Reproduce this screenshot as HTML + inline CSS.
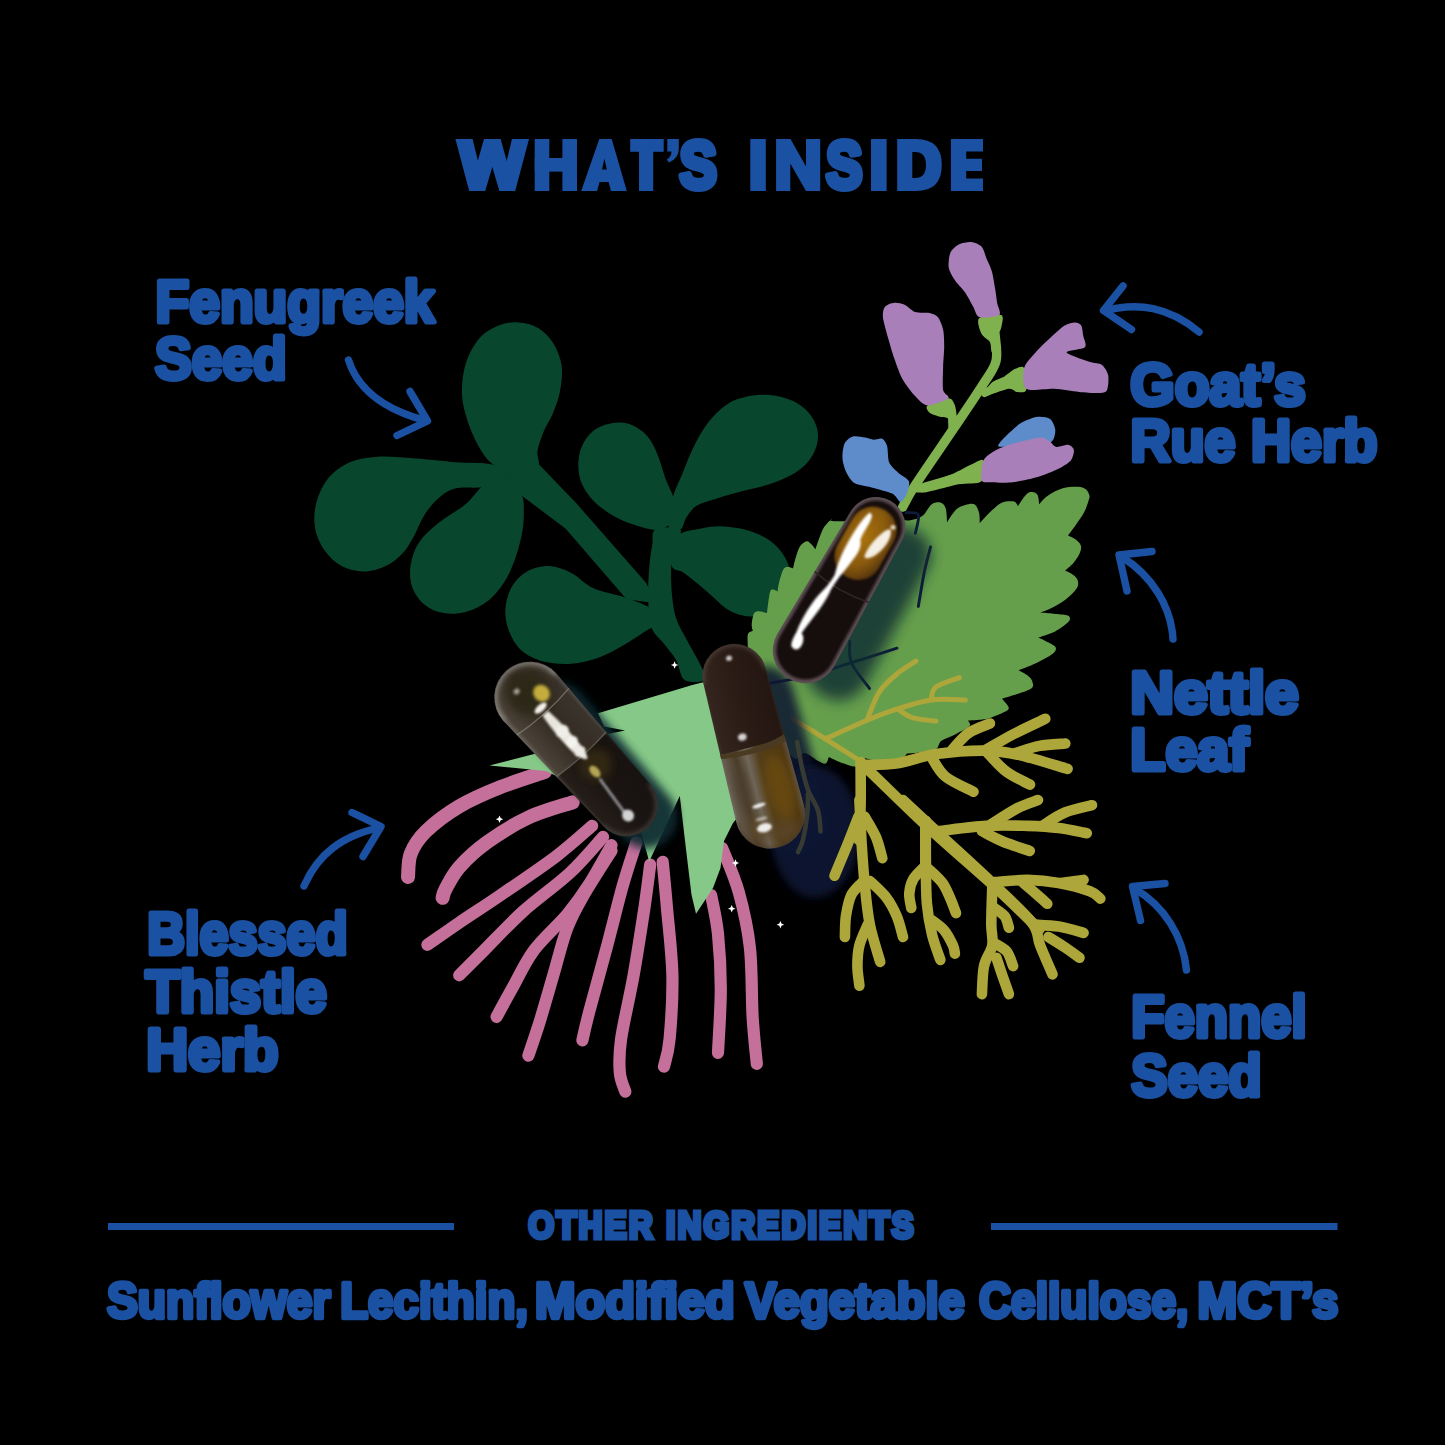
<!DOCTYPE html>
<html>
<head>
<meta charset="utf-8">
<title>What's Inside</title>
<style>
html,body{margin:0;padding:0;background:#000;}
body{width:1445px;height:1445px;overflow:hidden;position:relative;font-family:"Liberation Sans",sans-serif;}
svg{position:absolute;left:0;top:0;display:block;}
.lbl{font-family:"Liberation Sans",sans-serif;font-weight:bold;font-size:59px;fill:#1b51a3;stroke:#1b51a3;stroke-width:5px;stroke-linejoin:round;}
.ttl{font-family:"Liberation Sans",sans-serif;font-weight:bold;font-size:66px;fill:#1b51a3;stroke:#1b51a3;stroke-width:7px;stroke-linejoin:round;}
.oth{font-family:"Liberation Sans",sans-serif;font-weight:bold;font-size:37px;fill:#1b51a3;stroke:#1b51a3;stroke-width:4.8px;stroke-linejoin:miter;}
.ing{font-family:"Liberation Sans",sans-serif;font-weight:bold;font-size:50px;fill:#1b51a3;stroke:#1b51a3;stroke-width:4.4px;stroke-linejoin:round;}
.arw{fill:none;stroke:#1b51a3;stroke-width:7.4;stroke-linecap:round;stroke-linejoin:round;}
</style>
</head>
<body>
<svg width="1445" height="1445" viewBox="0 0 1445 1445">
<rect width="1445" height="1445" fill="#000"/>
<!--ILLUSTRATION-->
<g id="illus">
<g id="fenugreek" fill="#09462e">
<path d="M493.8,465 C486.9,459.5 484.3,455.8 479.9,448.4 C475.5,441 470.5,430 467.5,420.7 C464.5,411.5 462.2,402.7 461.9,393 C461.7,383.4 463.1,371.8 466.1,362.6 C469.1,353.4 474.4,343.9 479.9,337.7 C485.5,331.5 492.8,327.8 499.3,325.2 C505.8,322.7 512.2,322 518.7,322.5 C525.1,322.9 532.3,324.5 538.1,328 C543.8,331.5 549.4,337 553.3,343.2 C557.2,349.4 560.4,357.5 561.6,365.4 C562.7,373.2 561.6,382.4 560.2,390.3 C558.8,398.1 556.1,405.5 553.3,412.4 C550.5,419.3 546.2,425.3 543.6,431.8 C541,438.3 538.4,445.2 537.5,451.2 C536.6,457.2 540.7,462.7 538.1,467.8 C535.4,472.9 528.8,482.1 521.5,481.6 C514.1,481.2 500.7,470.6 493.8,465Z"/>
<path d="M493.8,465 C484.5,461.8 468.9,463.4 455,462.2 C441.2,461.1 423.6,459 410.7,458.1 C397.8,457.2 387.7,456 377.5,456.7 C367.4,457.4 358.1,458.6 349.8,462.2 C341.5,465.9 333.3,471.9 327.7,478.9 C322.1,485.8 318.1,495.5 316.1,503.8 C314,512.1 313.7,520.8 315.2,528.7 C316.7,536.5 320.5,544.6 324.9,550.8 C329.3,557.1 335.1,562.6 341.5,566.1 C348,569.5 356.3,571.6 363.7,571.6 C371,571.6 379.4,569.1 385.8,566.1 C392.3,563.1 397.8,558.4 402.4,553.6 C407,548.8 409.8,543.4 413.5,537 C417.2,530.5 420.4,521.3 424.6,514.8 C428.7,508.4 433.3,502.6 438.4,498.2 C443.5,493.9 447.6,490.4 455,488.5 C462.4,486.7 473.5,488.3 482.7,487.2 C491.9,486 508.5,485.3 510.4,481.6 C512.2,477.9 503,468.2 493.8,465Z"/>
<path d="M488.2,481.6 C479.5,486.2 474.4,496.9 466.1,503.8 C457.8,510.7 446.3,516.7 438.4,523.1 C430.6,529.6 423.6,535.6 419,542.5 C414.4,549.4 411.9,557.3 410.7,564.7 C409.6,572.1 409.8,580.1 412.1,586.8 C414.4,593.5 419.3,600.4 424.6,604.8 C429.9,609.2 437,612 443.9,613.1 C450.9,614.3 458.7,613.8 466.1,611.7 C473.5,609.7 481.8,605.7 488.2,600.7 C494.7,595.6 500.2,588.7 504.8,581.3 C509.5,573.9 512.9,565.1 515.9,556.4 C518.9,547.6 521.5,537.5 522.8,528.7 C524.1,519.9 523.9,509.8 523.7,503.8 C523.4,497.8 522.3,497.3 521.5,492.7 C520.6,488.1 524.2,477.9 518.7,476.1 C513.1,474.2 497,477 488.2,481.6Z"/>
<path d="M651.6,609 C646.5,604.8 636.3,601.3 626.6,597.9 C617,594.4 602.7,592.4 593.4,588.2 C584.2,584 578.7,576.7 571.3,573 C563.9,569.3 556.5,566.3 549.1,566.1 C541.8,565.8 533.2,568.1 527,571.6 C520.8,575.1 515.4,580.6 511.8,586.8 C508.2,593 505.9,601.6 505.4,609 C504.9,616.3 506.3,624.2 509,631.1 C511.7,638 515.7,645.4 521.5,650.5 C527.2,655.6 535.3,659.3 543.6,661.6 C551.9,663.8 562.1,664.5 571.3,663.8 C580.5,663.1 590.2,660.5 599,657.4 C607.7,654.3 616.5,649.1 623.9,644.9 C631.3,640.8 637.7,636.2 643.3,632.5 C648.8,628.8 655.7,626.7 657.1,622.8 C658.5,618.9 656.6,613.1 651.6,609Z"/>
<path d="M673.1,496.3 C671.4,491.4 668.5,486.6 665.9,479.6 C663.3,472.7 660.7,462 657.6,454.7 C654.5,447.5 651.7,441.1 647.2,436.1 C642.7,431 636.5,426.8 630.6,424.6 C624.7,422.5 618.1,422.1 611.9,423.2 C605.7,424.2 598.2,427 593.2,430.9 C588.2,434.7 584.3,440.7 581.8,446.4 C579.3,452.1 578.3,458.9 578.3,465.1 C578.3,471.3 579.3,477.9 581.8,483.8 C584.3,489.7 588.2,495.2 593.2,500.4 C598.2,505.6 605.3,511 611.9,514.9 C618.5,518.9 625.4,521.8 632.7,524.3 C639.9,526.8 649.6,529.7 655.5,529.9 C661.4,530.1 664.5,528.8 668,525.3 C671.4,521.8 675.4,513.6 676.3,508.7 C677.1,503.9 674.9,501.1 673.1,496.3Z"/>
<path d="M673.1,496.3 C675.6,487.6 679.2,481.4 682.5,473.4 C685.8,465.5 688.7,456.8 692.9,448.5 C697,440.2 701.9,430.9 707.4,423.6 C712.9,416.3 719.5,409.4 726.1,404.9 C732.7,400.4 739.6,398.3 746.8,396.6 C754.1,394.9 762.1,394.3 769.7,394.9 C777.3,395.6 785.9,397.7 792.5,400.8 C799.1,403.8 805,408.4 809.1,413.2 C813.3,418.1 816.2,424.3 817.4,429.8 C818.6,435.4 818.1,440.9 816.4,446.4 C814.7,452 811.4,458.2 807,463 C802.7,467.9 797,471.9 790.4,475.5 C783.9,479.1 775.6,482.2 767.6,484.8 C759.6,487.4 751,488.8 742.7,491.1 C734.4,493.3 725.4,495.9 717.8,498.3 C710.2,500.8 702.2,502.5 697,505.6 C691.8,508.7 689.4,513 686.6,517 C683.9,521 683.5,528.1 680.4,529.5 C677.3,530.9 669.2,530.9 668,525.3 C666.7,519.8 670.7,504.9 673.1,496.3Z"/>
<path d="M680.4,533.6 C685.6,530.7 694.2,529.6 701.2,528.4 C708.1,527.2 714.7,526.2 721.9,526.4 C729.2,526.5 737.5,527.6 744.8,529.5 C752,531.4 759.6,534.3 765.5,537.8 C771.4,541.2 776.2,545.7 780.1,550.2 C783.9,554.7 786.6,559.9 788.4,564.8 C790.1,569.6 790.8,574.1 790.4,579.3 C790.1,584.5 788.7,591.1 786.3,595.9 C783.9,600.7 780.4,605.1 775.9,608.4 C771.4,611.6 764.8,614.4 759.3,615.6 C753.8,616.8 748.2,616.8 742.7,615.6 C737.2,614.4 731.6,612 726.1,608.4 C720.5,604.7 714.7,598.3 709.5,593.8 C704.3,589.3 699.4,585 694.9,581.4 C690.4,577.7 686.3,574.5 682.5,572 C678.7,569.6 674.2,571.2 672.1,566.8 C670,562.5 668.6,551.6 670,546.1 C671.4,540.5 675.2,536.6 680.4,533.6Z"/>
<path d="M655.5,529.5 C660.2,527 677.5,526 680.4,529.5 C683.3,532.9 674.7,543.3 673.1,550.2 C671.6,557.2 671.2,563.4 671.1,571 C670.9,578.6 671.2,587.9 672.1,595.9 C673,603.9 673.8,611.5 676.3,618.7 C678.7,626 682.5,631.5 686.6,639.5 C690.8,647.5 698.1,659.7 701.2,666.5 C704.3,673.2 708.1,677.7 705.3,680 C702.6,682.2 689.4,683.3 684.6,680 C679.7,676.7 679.7,666.3 676.3,660.3 C672.8,654.2 668,649.2 663.8,643.6 C659.6,638.1 653.9,634.7 651.3,627 C648.7,619.4 648.6,608 648.2,598 C647.9,587.9 648.6,575.8 649.3,566.8 C650,557.8 651.3,550.2 652.4,544 C653.4,537.8 650.8,531.9 655.5,529.5Z"/>
<path d="M521.5,465 L538.1,463.6 L576.8,503.8 L646,582.7 L657.1,603.4 L626.6,599.3 L565.7,528.7 L521.5,495.5 L510.4,481.6Z"/>
</g>
<g id="goatsrue">
<g fill="none" stroke="#80b14f" stroke-linecap="round" stroke-linejoin="round">
<path d="M995,333.8 C995.2,338.3 998,352.5 996.1,360.8 C994.2,369.1 990.5,372.6 983.6,383.6 C976.7,394.7 966,410.3 954.6,427.2 C943.1,444.2 923.8,472 915.1,485.3 C906.5,498.7 904.7,503.5 902.7,507.1" stroke-width="9.4"/>
<path d="M984.7,393 C986.6,392.1 991.8,389.3 996.1,387.8 C1000.4,386.2 1008.2,384.3 1010.6,383.6" stroke-width="8"/>
<path d="M918.2,488.5 C924.3,486.7 945,480.7 954.6,478.1 C964.1,475.5 971.9,473.8 975.3,472.9" stroke-width="8"/>
<path d="M952.5,430.3 C952.4,428.1 952.1,419.1 952.1,416.8" stroke-width="8"/>
</g>
<path d="M979.1,318.2 C981.8,315.6 998.2,313.8 1001.3,315.1 C1004.4,316.4 1001.8,324.4 1001.3,327.6 C1000.7,330.8 997.6,334.8 997.1,338 C996.7,341.1 998.9,348.4 998.2,350.4 C997.4,352.4 993.1,353.6 991.9,352.5 C990.8,351.3 991.3,344.7 989.9,342.1 C988.4,339.5 983.1,337.1 981.5,333.8 C980,330.5 976.3,320.8 979.1,318.2Z" fill="#80b14f"/>
<path d="M927.6,405.4 C930.2,403.4 944.6,398.3 948.3,398.2 C952.1,398 953.4,402.1 954.6,404.4 C955.7,406.7 956.3,412.1 956.6,414.8 C956.9,417.4 957.7,420.6 956.6,423.1 C955.6,425.5 950.5,433 949.4,432.4 C948.2,431.8 949.6,421.1 948.3,418.9 C947,416.7 942.6,417.7 940,416.8 C937.4,416 931.4,414.3 929.6,412.7 C927.9,411.1 925,407.5 927.6,405.4Z" fill="#80b14f"/>
<path d="M1024.1,368.1 C1025.7,371 1027.2,386.5 1026.2,389.9 C1025.2,393.2 1019.3,392.1 1016.8,391.9 C1014.4,391.8 1013.2,388.2 1008.5,388.8 C1003.9,389.4 985.9,397 983.6,396.1 C981.3,395.2 989,385.3 991.9,382.6 C994.8,379.8 1001.2,378.2 1004.4,376.4 C1007.6,374.5 1012,370.3 1014.8,369.1 C1017.5,367.9 1022.5,365.1 1024.1,368.1Z" fill="#80b14f"/>
<path d="M983.6,460.4 C985.1,462.8 985,477.9 981.5,481.2 C978.1,484.5 966.8,482.7 958.7,484.3 C950.6,485.9 929.2,492.2 923.4,492.6 C917.6,493 912.8,490.2 917.2,487.4 C921.6,484.7 947,476.1 954.6,472.9 C962.1,469.7 967.1,466.3 971.2,464.6 C975.2,462.8 982.2,458.1 983.6,460.4Z" fill="#80b14f"/>
<path d="M979.5,317.2 C975.8,316 975.3,310.3 973.2,306.8 C971.2,303.3 967.6,296.1 964.9,292.3 C962.3,288.5 956.8,283.3 954.6,279.8 C952.3,276.3 949.3,271.1 948.7,267.4 C948.2,263.6 949,256 950.4,252.8 C951.8,249.6 955.8,246 958.7,244.5 C961.6,243 968,241.8 971.2,242 C974.4,242.3 979.4,244.2 981.5,246.6 C983.7,249 985.3,255.6 986.7,259.1 C988.2,262.6 990.8,267.5 991.9,271.5 C993.1,275.6 994.3,283.8 995,288.1 C995.8,292.5 996.5,298.9 997.1,302.7 C997.7,306.4 1001.7,313.1 999.2,315.1 C996.7,317.1 983.1,318.4 979.5,317.2Z" fill="#a87fb9"/>
<path d="M927.6,405.4 C922.9,405.1 918.6,399.7 915.1,396.1 C911.6,392.4 905.6,384.7 902.7,379.5 C899.8,374.2 896.4,364.5 894.4,358.7 C892.3,352.9 889.7,343.8 888.1,338 C886.5,332.1 883.4,321.6 882.9,317.2 C882.5,312.8 883.4,308.8 885,306.8 C886.6,304.8 891.6,302.9 894.4,302.7 C897.1,302.4 901.8,303.4 904.7,304.7 C907.6,306 911.6,310.8 915.1,312 C918.6,313.2 926.5,312.3 929.6,313 C932.8,313.8 936.1,314.9 938,317.2 C939.8,319.5 942.3,325.6 943.1,329.6 C944,333.7 944.2,341 944.2,346.3 C944.2,351.5 943.3,360.9 943.1,367 C943,373.1 942.4,385.5 943.1,389.9 C943.9,394.2 950.5,396 948.3,398.2 C946.2,400.3 932.2,405.7 927.6,405.4Z" fill="#a87fb9"/>
<path d="M1024.1,368.1 C1025.4,363 1031.9,356.7 1035.5,352.5 C1039.2,348.3 1046,341.7 1050.1,338 C1054.1,334.2 1061.1,327.7 1064.6,325.5 C1068.1,323.3 1072.6,322.4 1075,322.4 C1077.3,322.4 1080,323.6 1081.2,325.5 C1082.4,327.4 1082.7,332.8 1083.3,335.9 C1083.8,338.9 1087.3,345 1084.9,347.3 C1082.6,349.6 1066,350.4 1066.7,352.5 C1067.3,354.5 1084.6,360.1 1089.5,361.8 C1094.4,363.6 1099.3,363 1102,364.9 C1104.6,366.8 1107.5,371.8 1108.2,375.3 C1108.9,378.8 1108.3,387.4 1107.1,389.9 C1106,392.3 1103.8,392.7 1099.9,393 C1096,393.3 1085.5,392.5 1079.1,391.9 C1072.7,391.3 1061.6,389.2 1054.2,388.8 C1046.8,388.4 1030.4,391.7 1026.2,388.8 C1022,385.9 1022.8,373.1 1024.1,368.1Z" fill="#a87fb9"/>
<path d="M998.2,445.9 C997.6,444.4 1003.3,438.7 1006.5,435.5 C1009.7,432.3 1016.6,425.7 1021,423.1 C1025.3,420.5 1033.5,417.4 1037.6,416.8 C1041.7,416.3 1047.6,417.2 1050.1,418.9 C1052.5,420.7 1054.8,426.4 1055.2,429.3 C1055.7,432.2 1054.5,437.6 1053.2,439.7 C1051.9,441.7 1049.5,443.5 1045.9,443.8 C1042.3,444.1 1032.2,441.5 1027.2,441.8 C1022.3,442 1014.7,445.3 1010.6,445.9 C1006.5,446.5 998.7,447.4 998.2,445.9Z" fill="#5e8ccb"/>
<path d="M983.6,460.4 C985.7,456.2 992,452.4 996.1,450.1 C1000.1,447.7 1008,445.3 1012.7,443.8 C1017.3,442.4 1025.2,440.5 1029.3,439.7 C1033.4,438.8 1038.8,437.3 1041.8,437.6 C1044.7,437.9 1048,440.4 1050.1,441.8 C1052.1,443.1 1053.7,446.5 1056.3,446.9 C1058.9,447.4 1066.3,444.4 1068.7,444.9 C1071.2,445.3 1073.6,447.9 1073.9,450.1 C1074.2,452.2 1073,457.8 1070.8,460.4 C1068.6,463 1063,466.4 1058.4,468.7 C1053.7,471.1 1044,475.2 1037.6,477 C1031.2,478.9 1019.1,481.5 1012.7,482.2 C1006.3,483 996.3,482.5 991.9,482.2 C987.6,481.9 982.7,483.2 981.5,480.2 C980.4,477.1 981.6,464.6 983.6,460.4Z" fill="#a87fb9"/>
<path d="M900.6,502 C898.5,502 896.3,495.7 892.3,493.6 C888.2,491.6 876.8,488.9 871.5,487.4 C866.3,486 858.4,485.3 854.9,483.3 C851.4,481.2 848.4,476.4 846.6,472.9 C844.9,469.4 842.7,462.4 842.5,458.4 C842.2,454.3 843.1,446.9 844.5,443.8 C846,440.8 849.9,437.4 852.8,436.6 C855.7,435.7 862.4,437.2 865.3,437.6 C868.2,438 871.3,439.5 873.6,439.7 C875.9,439.8 880,437.8 881.9,438.6 C883.8,439.5 886.1,442.6 887.1,445.9 C888.1,449.2 887.6,458.7 889.2,462.5 C890.8,466.3 895.7,470.3 898.5,472.9 C901.3,475.5 907.7,478.3 908.9,481.2 C910,484.1 908,490.7 906.8,493.6 C905.6,496.6 902.6,502 900.6,502Z" fill="#5e8ccb"/>
</g>
<path id="nettle" d="M747.6,640 C747.4,634.7 747.7,634.4 748.6,632.9 C749.5,631.4 752.9,631 752.9,631 C752.9,631 751.6,627.7 751.7,625 C751.7,622.3 752.6,617.1 753.4,614.8 C754.3,612.6 754.5,611.8 756.8,611.4 C759.1,611.1 767,612.9 767,612.9 C767,612.9 767.8,605.5 768.4,601.7 C769.1,597.9 769.5,591.8 771,590.1 C772.6,588.4 777.6,591.6 777.6,591.6 C777.6,591.6 778.1,586.1 779.1,582.4 C780.1,578.6 782,571.9 783.4,569.3 C784.9,566.7 786.2,567 787.8,566.9 C789.4,566.7 793.1,568.3 793.1,568.3 C793.1,568.3 794.4,561.8 795.6,558.1 C796.7,554.5 798.1,549.3 799.9,546.5 C801.8,543.7 804.8,541.5 806.7,541.2 C808.6,540.9 810.1,543.2 811.6,544.6 C813,545.9 815.4,549.4 815.4,549.4 C815.4,549.4 816.9,544.4 818.3,540.7 C819.8,537 821.9,530.7 824.1,527.1 C826.4,523.6 829.9,520.3 831.9,519.4 C833.9,518.4 825.2,521.2 836.3,521.3 C847.3,521.5 885.9,520.4 898.3,520.2 C910.6,520.1 906.4,521 910.5,520.2 C914.5,519.5 919.1,518.3 922.6,515.7 C926.2,513 928.7,506.4 931.8,504.3 C934.8,502.1 938.6,502 940.9,502.7 C943.2,503.5 944.8,505.5 945.8,508.8 C946.8,512.1 947,522.5 947,522.5 C947,522.5 953.1,512.5 956.1,509.6 C959.2,506.7 962.2,505.9 965.3,505 C968.3,504.1 972.1,503 974.4,504.3 C976.7,505.5 978.1,509.5 979,512.6 C979.9,515.8 979.7,523.3 979.7,523.3 C979.7,523.3 985.9,516.1 989.6,512.6 C993.3,509.2 997.7,504.6 1001.8,502.7 C1005.9,500.9 1011.3,500.9 1014,501.5 C1016.6,502.1 1017.8,506.2 1017.8,506.2 C1017.8,506.2 1023.8,496.7 1026.2,494.4 C1028.6,492 1030.4,491.9 1032.3,492.1 C1034.2,492.2 1036.4,493.1 1037.6,495.1 C1038.7,497.2 1039.1,504.3 1039.1,504.3 C1039.1,504.3 1043.5,498.5 1047.5,495.9 C1051.4,493.2 1057.6,489.8 1062.7,488.3 C1067.8,486.7 1074.1,486.6 1077.9,486.7 C1081.7,486.9 1083.6,487.6 1085.5,489 C1087.4,490.4 1088.8,493.2 1089.3,495.1 C1089.9,497 1089.5,497.5 1088.6,500.5 C1087.7,503.4 1086.3,508.3 1084,512.6 C1081.7,516.9 1077.5,522.5 1074.9,526.3 C1072.2,530.1 1068,535.5 1068,535.5 C1068,535.5 1074.2,538.3 1076.4,540 C1078.6,541.8 1080.5,543.8 1081,546.1 C1081.5,548.4 1080.7,550.9 1079.5,553.7 C1078.2,556.5 1075.8,560.1 1073.4,562.9 C1071,565.7 1065,570.5 1065,570.5 C1065,570.5 1071.2,573.3 1073.4,575.1 C1075.5,576.8 1077.4,578.9 1077.9,581.1 C1078.4,583.4 1078.4,585.7 1076.4,588.8 C1074.4,591.8 1070.1,596.1 1065.7,599.4 C1061.4,602.7 1054.7,606.4 1050.5,608.6 C1046.3,610.7 1040.6,612.4 1040.6,612.4 C1040.6,612.4 1057.9,613.9 1062.7,614.6 C1067.5,615.4 1068.7,615.7 1069.6,616.9 C1070.4,618.2 1070.4,619.8 1068,622.3 C1065.6,624.7 1060,628.9 1055.1,631.4 C1050.1,633.9 1038.3,637.5 1038.3,637.5 C1038.3,637.5 1047.6,641.8 1050.5,643.6 C1053.4,645.3 1055.6,646.4 1055.9,648.1 C1056.1,649.9 1055.5,651.7 1052,654.2 C1048.6,656.8 1040.9,660.7 1035.3,663.4 C1029.7,666 1018.6,670.2 1018.6,670.2 C1018.6,670.2 1025.4,673.6 1027.7,675.5 C1030,677.4 1031.9,679.3 1032.3,681.6 C1032.6,683.9 1035,686.4 1030,689.2 C1024.9,692.1 1001.8,698.8 1001.8,698.8 C1001.8,698.8 1009.1,705.7 1008.8,708.2 C1008.5,710.7 1003.6,712.2 1000,714 C996.4,715.8 987,719 987,719 C987,719 981.2,719.7 977.9,719.9 C974.7,720.2 967.6,720.4 967.6,720.4 C967.6,720.4 971.6,723.7 969.6,726 C967.5,728.4 959.8,731.9 955.1,734.4 C950.4,736.9 944.7,738.3 941.4,740.8 C938.1,743.3 939.4,747.6 935.3,749.6 C931.2,751.6 921.8,752 917,752.7 C912.3,753.3 906.7,753.4 906.7,753.4 C906.7,753.4 905.9,756.3 902.6,757.5 C899.2,758.8 891.3,760.6 886.6,761 C881.9,761.5 877.9,760.7 874.4,760.3 C870.8,759.8 865.3,758.3 865.3,758.3 C865.3,758.3 859.7,765.5 856.1,766.4 C852.6,767.3 848.5,765.2 843.9,763.6 C839.4,762.1 828.7,756.9 828.7,756.9 C828.7,756.9 827.5,762.9 825.7,763.6 C823.9,764.3 821.6,762.8 818.1,761 C814.6,759.3 808.5,753.4 804.7,753 C800.8,752.5 799,760.6 794.9,758.5 C790.8,756.3 785.8,749.7 780,740 C774.2,730.3 765,712.5 760,700 C755,687.5 752.1,675 750,665 C747.9,655 747.8,645.4 747.6,640Z" fill="#669f4c"/>
<g id="thistle-pink" fill="none" stroke="#c4709a" stroke-width="12.2" stroke-linecap="round" stroke-linejoin="round">
<path d="M545,771.8 C537.6,774.4 515,781.3 500.7,787.1 C486.4,792.8 471.7,799.1 459.2,806.4 C446.7,813.8 434.1,823.5 426,831.3 C417.9,839.2 413.8,845.9 410.8,853.5 C407.8,861.1 408.5,873.1 408,877" stroke-width="14"/>
<path d="M572.7,802.3 C565.3,804.8 542.7,810.8 528.4,817.5 C514.1,824.2 498.4,834.1 486.9,842.4 C475.4,850.7 466.1,859.5 459.2,867.3 C452.3,875.2 448.1,884.4 445.4,889.5 C442.6,894.6 443.1,896.4 442.6,897.8" stroke-width="14"/>
<path d="M592.1,825.8 C586.1,830.9 571.3,844.7 556.1,856.3 C540.9,867.8 516.9,883.9 500.7,895 C484.6,906.1 471.4,914.4 459.2,922.7 C447,931 432.7,941.2 427.4,944.8"/>
<path d="M603.1,836.9 C597.6,842.9 583.3,860.4 569.9,872.9 C556.6,885.3 537.2,898.7 522.9,911.6 C508.6,924.5 494.7,939.8 484.1,950.4 C473.5,961 463.4,971.1 459.2,975.3"/>
<path d="M611.5,845.2 C607.8,851.6 596.7,872.4 589.3,883.9 C581.9,895.5 576.4,903.3 567.2,914.4 C557.9,925.5 543.2,937.9 533.9,950.4 C524.7,962.8 518,978.1 511.8,989.1 C505.6,1000.2 499.1,1012.2 496.6,1016.8"/>
<path d="M611.5,850.7 C606.8,858.1 591.2,882.1 583.8,895 C576.4,907.9 572.2,914.9 567.2,928.2 C562.1,941.6 557.9,959.6 553.3,975.3 C548.7,991 543.6,1009 539.5,1022.4 C535.3,1035.7 530.3,1050 528.4,1055.6"/>
<path d="M636.4,842.4 C634.1,849.8 627.6,868.7 622.5,886.7 C617.5,904.7 611.5,929.6 605.9,950.4 C600.4,971.1 593.2,996.3 589.3,1011.3 C585.4,1026.3 583.5,1035.5 582.4,1040.3"/>
<path d="M650.2,864.6 C649.3,871.5 647.4,887.6 644.7,906.1 C641.9,924.5 637.5,953.1 633.6,975.3 C629.7,997.4 623.4,1022.8 621.1,1039 C618.8,1055.1 619.1,1063.4 619.8,1072.2 C620.4,1080.9 624.4,1088.3 625.3,1091.6"/>
<path d="M662.7,861.8 C663.4,869.2 665.2,887.2 666.8,906.1 C668.4,925 671.9,953.1 672.4,975.3 C672.8,997.4 671,1023.7 669.6,1039 C668.2,1054.2 665,1062 664,1066.6"/>
<path d="M711.1,895 C712.3,901.5 716.4,918.1 718,933.8 C719.6,949.5 720.8,969.3 720.8,989.1 C720.8,1009 718.5,1042.2 718,1052.8"/>
<path d="M722.2,848 C724.9,855.3 734.2,875.6 738.8,892.2 C743.4,908.9 747.6,926.9 749.9,947.6 C752.2,968.4 751.5,997.4 752.6,1016.8 C753.8,1036.2 756.1,1056 756.8,1063.9"/>
</g>
<path id="thistle-green" d="M598,713.2 L691.5,685.3 L700,683 L735,676 L748,700 L762,760 L752,800 L733,823 L724,841 L720.5,868 L713,888 L702.5,904 L696,913.7 L691.5,894.8 L686.1,849.9 L679.8,795.9 L649.2,861.5 L641,832 L622,813 L585,790 L546,771 L489.5,765.5 L536,753.5 L590,745 L608,734 L625,730.5 L604,726.5Z" fill="#86c887"/>
<g id="fennel" fill="none" stroke="#ada63a" stroke-linecap="round" stroke-linejoin="round">
<g stroke-width="5">
<path d="M792.4,718.8 C797.8,722.2 813.9,731.8 825.3,738.8 C836.7,745.9 854.7,757.5 860.6,761.2"/>
<path d="M825.3,738.8 C832.4,735.7 855.9,724.9 867.6,720 C879.4,715.1 885.3,712.7 895.9,709.4 C906.5,706.1 919.6,701.6 931.2,700 C942.7,698.4 959.6,700 965.3,700"/>
<path d="M867.6,718.8 C869.6,714.3 874.3,699.4 879.4,691.8 C884.5,684.1 892.2,678 898.2,672.9 C904.3,667.8 912.9,663.1 915.9,661.2"/>
<path d="M931.2,698.8 C932,696.9 931.2,690.6 935.9,687.1 C940.6,683.5 955.5,679.2 959.4,677.6"/>
<path d="M898.2,709.4 C900.6,710.8 906.1,715.7 912.4,717.6 C918.6,719.6 932,720.6 935.9,721.2"/>
</g></g>
<defs>
<filter id="bl8" x="-50%" y="-50%" width="200%" height="200%"><feGaussianBlur stdDeviation="7"/></filter>
<filter id="bl5" x="-50%" y="-50%" width="200%" height="200%"><feGaussianBlur stdDeviation="4.5"/></filter>
<filter id="bl3" x="-50%" y="-50%" width="200%" height="200%"><feGaussianBlur stdDeviation="2.6"/></filter>
<filter id="bl1" x="-20%" y="-20%" width="140%" height="140%"><feGaussianBlur stdDeviation="0.8"/></filter>
<filter id="bl2" x="-30%" y="-30%" width="160%" height="160%"><feGaussianBlur stdDeviation="1.5"/></filter>
<radialGradient id="amb" cx="0.42" cy="0.45" r="0.7"><stop offset="0" stop-color="#a9720c"/><stop offset="0.55" stop-color="#8a5a0a"/><stop offset="1" stop-color="#4a2d08"/></radialGradient>
<linearGradient id="c2low" x1="0" x2="1" y1="0" y2="0"><stop offset="0" stop-color="#98928a"/><stop offset="0.1" stop-color="#665c50"/><stop offset="0.26" stop-color="#4a3c28"/><stop offset="0.4" stop-color="#70675a"/><stop offset="0.54" stop-color="#523e1a"/><stop offset="0.85" stop-color="#503812"/><stop offset="0.95" stop-color="#625a52"/><stop offset="1" stop-color="#79726a"/></linearGradient>
<linearGradient id="c2top" x1="0" x2="1" y1="0" y2="0"><stop offset="0" stop-color="#5a4d48"/><stop offset="0.12" stop-color="#33241d"/><stop offset="0.5" stop-color="#2a1b15"/><stop offset="0.88" stop-color="#241611"/><stop offset="1" stop-color="#50443f"/></linearGradient>
<linearGradient id="c3a" x1="0" x2="1" y1="0" y2="0"><stop offset="0" stop-color="#8a8680"/><stop offset="0.13" stop-color="#4a4238"/><stop offset="0.5" stop-color="#332b22"/><stop offset="0.88" stop-color="#3a332c"/><stop offset="1" stop-color="#6f6b66"/></linearGradient>
<linearGradient id="c3b" x1="0" x2="1" y1="0" y2="0"><stop offset="0" stop-color="#6a6661"/><stop offset="0.14" stop-color="#241d18"/><stop offset="0.5" stop-color="#1a1512"/><stop offset="0.88" stop-color="#181310"/><stop offset="1" stop-color="#44403c"/></linearGradient>
<clipPath id="cp1"><path d="M-29.5,-71.3 A29.5,29.5 0 0 1 29.5,-71.3 L32.7,71.3 A32.7,32.7 0 0 1 -32.7,71.3 Z"/></clipPath>
<clipPath id="cp2"><path d="M-32,-71 A32,32 0 0 1 32,-71 L35,71 A35,35 0 0 1 -35,71 Z"/></clipPath>
<clipPath id="cp3"><path d="M-35.5,-72.2 A35.5,35.5 0 0 1 35.5,-72.2 L31.5,72.2 A31.5,31.5 0 0 1 -31.5,72.2 Z"/></clipPath>
</defs>
<g fill="none" stroke="#0f1a3a" stroke-width="2.9" stroke-linecap="round">
<path d="M764.6,684 C771.4,682.8 791.2,680 805.7,676.4 C820.1,672.9 836.1,667.4 851.4,662.7 C866.6,658 889.4,650.7 897,648.2"/>
<path d="M849.8,641.4 C850.1,644.9 848.1,654.8 851.4,662.7 C854.7,670.6 866.6,684.3 869.6,688.6"/>
<path d="M906.2,512.7 C908.2,513.1 916.8,511.3 918.3,514.7 C919.9,518.1 915.8,530.2 915.3,533.3"/>
<path d="M930.5,547 C929.5,551.1 926.5,561.5 924.4,571.4 C922.4,581.2 919.4,600.5 918.3,606.4"/>
</g>
<g filter="url(#bl8)" opacity="0.8"><path d="M-29.5,-71.3 A29.5,29.5 0 0 1 29.5,-71.3 L32.7,71.3 A32.7,32.7 0 0 1 -32.7,71.3 Z" fill="#0e2a30" transform="translate(870,612) rotate(29.6) scale(0.97,0.93)"/></g>
<g filter="url(#bl5)" opacity="0.92"><path d="M-35.5,-72.2 A35.5,35.5 0 0 1 35.5,-72.2 L31.5,72.2 A31.5,31.5 0 0 1 -31.5,72.2 Z" fill="#0e2a30" transform="translate(601,767) rotate(-41.9) scale(0.98,0.95)"/></g>
<g filter="url(#bl5)" opacity="0.85"><path d="M-32,-71 A32,32 0 0 1 32,-71 L35,71 A35,35 0 0 1 -35,71 Z" fill="#0d1430" transform="translate(780,760) rotate(-14.5) scale(0.95,0.93)"/></g>
<g filter="url(#bl5)" opacity="0.95"><ellipse cx="815" cy="832" rx="44" ry="66" fill="#0c1230"/></g>
<g fill="none" stroke="#3b3f33" stroke-width="4.6" stroke-linecap="round" opacity="0.9">
<path d="M797.2,742 C797.9,745.8 799.6,756.9 801.4,764.9 C803.2,772.9 805.2,782.2 808,789.8 C810.8,797.4 815.9,803.7 818,810.6 C820.1,817.5 820.1,827.9 820.5,831.4"/>
<path d="M808,794 C807.9,797.5 808,807.2 807.2,814.8 C806.4,822.4 804.5,833.5 803,839.7 C801.5,845.9 798.8,850 798,852.1"/>
</g>

<g id="fennel-thick" fill="none" stroke="#ada63a" stroke-linecap="round" stroke-linejoin="round" stroke-width="10.6">
<path d="M860.6,764.7 C866.5,764.5 883.3,765.3 895.9,763.5 C908.4,761.8 921,756.3 935.9,754.1 C950.8,752 971.2,750.4 985.3,750.6 C999.4,750.8 1006.9,752.2 1020.6,755.3 C1034.3,758.4 1059.8,766.7 1067.6,768.9"/>
<path d="M952.4,749.4 C955.1,746.7 962.5,737.3 968.8,732.9 C975.1,728.6 986.5,725.1 990,723.5"/>
<path d="M985.3,750.1 C990,747.5 1003.5,739.3 1013.5,734.1 C1023.5,728.9 1040,721.4 1045.3,718.8"/>
<path d="M1015.9,752.9 C1019.8,751.8 1031.2,747.5 1039.4,745.9 C1047.6,744.3 1061,743.9 1065.3,743.5"/>
<path d="M931.2,756.5 C933.5,759.8 938.2,770.6 945.3,776.5 C952.4,782.4 968.8,789.2 973.5,791.8"/>
<path d="M987.6,752.9 C990.8,756.1 999.4,766.5 1006.5,771.8 C1013.5,777.1 1026.1,782.5 1030,784.7"/>
<path d="M860.6,762.4 C871.6,772.9 904.5,805.5 926.5,825.9 C948.4,846.3 973.5,867.5 992.4,884.7 C1011.2,902 1031.6,922 1039.4,929.4"/>
<path d="M860.6,762.4 C860.6,769.4 860.9,791.8 860.6,804.7 C860.3,817.6 859,834.1 858.7,840"/>
<path d="M925.3,825.9 C925.3,832.2 925.3,857.3 925.3,863.5"/>
<path d="M859.4,800 C859.8,806.9 860.7,827.7 861.5,841.5 C862.4,855.4 863.2,869.2 864.6,883 C866,896.9 867.2,911.4 869.8,924.6 C872.4,937.7 878.5,955.7 880.2,961.9"/>
<path d="M858.4,816.6 C856.5,821.5 851,835.8 847,845.7 C843,855.5 836.6,870.8 834.5,875.8"/>
<path d="M864.6,816.6 C866.5,820.1 873.1,830.4 876.1,837.4 C879,844.3 881.2,854.7 882.3,858.1"/>
<path d="M861.5,883 C859.8,885.1 853.7,890 851.1,895.5 C848.5,901 847,909.3 845.9,916.3 C844.9,923.2 845.1,933.6 844.9,937"/>
<path d="M869.8,881 C872.6,883.7 881.9,891.7 886.4,897.6 C890.9,903.5 894,909.7 896.8,916.3 C899.6,922.8 902,933.6 903,937"/>
<path d="M867.7,924.6 C866.4,928 861.2,938.4 859.4,945.3 C857.7,952.2 857.4,959.3 857.4,966.1 C857.4,972.8 859.1,982.5 859.4,985.8"/>
<path d="M925.9,820.8 C925.9,827.7 925.7,848.4 925.9,862.3 C926,876.1 925.9,891.7 926.9,903.8 C928,915.9 929.9,925.6 932.1,934.9 C934.4,944.3 939,955.7 940.4,959.9"/>
<path d="M924.8,866.4 C922.9,868.5 916,874.4 913.4,878.9 C910.8,883.4 909.6,888.6 909.3,893.4 C908.9,898.3 911,905.5 911.3,908"/>
<path d="M928,868.5 C930.4,870.9 938.7,877.8 942.5,883 C946.3,888.2 948.5,894.6 950.8,899.6 C953,904.7 955.1,910.9 956,913.1"/>
<path d="M932.1,920.4 C934.2,922.1 941.1,926.6 944.6,930.8 C948,934.9 951.1,941.5 952.9,945.3 C954.6,949.1 954.6,952.2 954.9,953.6"/>
<path d="M903,800 C908.6,805.2 921.4,817.3 936.3,831.1 C951.1,845 976.4,867.8 992.3,883 C1008.2,898.3 1023.8,912.1 1031.8,922.5 C1039.7,932.9 1036.6,936.7 1040.1,945.3 C1043.5,954 1050.4,969.5 1052.5,974.4"/>
<path d="M938.3,831.1 C946.3,830.3 971.2,826.8 986.1,825.9 C1001,825.1 1015.5,825.6 1027.6,825.9 C1039.7,826.3 1048.9,826.8 1058.7,828 C1068.6,829.2 1082.1,832.4 1086.8,833.2"/>
<path d="M990.2,824.9 C994.7,822.1 1009.3,812.5 1017.2,808.3 C1025.2,804.2 1034.5,801.4 1038,800"/>
<path d="M1042.1,825.9 C1045.9,823.7 1056.7,815.9 1065,812.5 C1073.3,809 1087.5,806.4 1092,805.2"/>
<path d="M981.9,831.1 C985.4,832.9 994.7,838.2 1002.7,841.5 C1010.6,844.8 1025.2,849.3 1029.7,850.9"/>
<path d="M994.4,882 C999.9,881.7 1016.9,879.8 1027.6,879.9 C1038.3,880.1 1048.4,881.1 1058.7,883 C1069.1,884.9 1083,888.7 1089.9,891.3 C1096.8,893.9 1098.5,897.4 1100.3,898.6"/>
<path d="M1060.8,883 C1064.6,882.5 1079.8,880.4 1083.6,879.9"/>
<path d="M1023.4,883 C1025.9,885.1 1034,892 1038,895.5 C1042,899 1045.8,902.4 1047.3,903.8"/>
<path d="M1033.8,924.6 C1038,924.9 1050.4,925.3 1058.7,926.6 C1067,928 1079.5,931.8 1083.6,932.9"/>
<path d="M1048.4,937 C1051.1,938.7 1059.8,943.9 1065,947.4 C1070.2,950.9 1077.1,956 1079.5,957.8"/>
<path d="M992.3,887.2 C992.1,893.4 991.3,914.9 991.3,924.6 C991.3,934.2 993.5,938.4 992.3,945.3 C991.1,952.2 985.7,957.9 984,966.1 C982.3,974.2 982.3,989.4 981.9,994.1"/>
<path d="M994.4,908 C996.1,909.3 1002.3,913 1004.8,916.3 C1007.2,919.5 1008.2,925.8 1008.9,927.7"/>
<path d="M994.4,943.2 C996.5,944.6 1003.7,947.7 1006.8,951.5 C1010,955.4 1012,963.7 1013.1,966.1"/>
<path d="M996.5,957.8 C997.5,960.9 1000.6,970.4 1002.7,976.5 C1004.8,982.5 1007.9,991.2 1008.9,994.1"/>
</g>

<g id="cap1" transform="translate(840.75,588.5) rotate(29.6)">
<path d="M-29.5,-71.3 A29.5,29.5 0 0 1 29.5,-71.3 L32.7,71.3 A32.7,32.7 0 0 1 -32.7,71.3 Z" fill="#5b4d52"/>
<g clip-path="url(#cp1)">
<g filter="url(#bl1)"><path d="M-26.3,-71 A26.3,26.3 0 0 1 26.3,-71 L29.3,71 A29.3,29.3 0 0 1 -29.3,71 Z" fill="#170d10"/></g>
<g filter="url(#bl1)"><rect x="-24.5" y="-90" width="47.5" height="77" rx="23.5" fill="url(#amb)"/></g>
<path d="M-33,-2 Q0,5 33,-2" stroke="#2e2428" stroke-width="1.6" fill="none"/>
<g filter="url(#bl1)" fill="#fff">
<path d="M-12.5,-80 C-8.5,-81 -7.5,-76 -7.5,-70 C-7.5,-62 -8,-56 -7,-52 C-3,-48 -2,-40 -3.5,-32 C-4.5,-24 -5.5,-16 -7,-9 L-12,-9 C-14.5,-18 -16.5,-30 -16.5,-44 C-16.5,-60 -15.5,-72 -12.5,-80Z"/>
<path d="M-12,-9 L-7,-9 C-7.5,-3 -8,2 -8,6 C-7,14 -7.5,26 -9.5,38 C-10.5,46 -11.5,52 -12,58 C-8,60 -5.5,65 -6,70 C-6.5,76 -11,77 -15,74 C-17,70 -17,64 -17,60 C-18.5,50 -19,38 -17.5,26 C-16.5,16 -14,10 -13,4 C-12.5,0 -12,-4 -12,-9Z"/>
<path d="M14,-76 C19.5,-71 19,-58 14.5,-48 C12,-42 8,-38 5,-39 C3,-46 4.5,-58 8,-67 C9.5,-72 11.5,-75 14,-76Z" fill="#f4efe2"/>
<ellipse cx="15.3" cy="-79" rx="2.6" ry="2.3" fill="#e8dcc8"/>
</g></g></g>
<g id="cap2" transform="translate(752.25,744.75) rotate(-14.5)">
<g clip-path="url(#cp2)">
<rect x="-40" y="-110" width="80" height="116" fill="url(#c2top)"/>
<rect x="-40" y="2" width="80" height="112" fill="url(#c2low)"/>
<path d="M-40,0 Q0,9 40,-4 L40,4 Q0,13 -40,5Z" fill="#4a3a22"/>
<g filter="url(#bl5)"><ellipse cx="16" cy="48" rx="13" ry="34" fill="#664810" opacity="0.9"/><ellipse cx="-20" cy="40" rx="6" ry="22" fill="#4e4030" opacity="0.8"/><ellipse cx="-16" cy="84" rx="9" ry="14" fill="#5e4a2a" opacity="0.8"/><ellipse cx="10" cy="92" rx="16" ry="10" fill="#5a4424" opacity="0.9"/></g>
<g filter="url(#bl3)"><path d="M-33,-71 A33,33 0 0 1 33,-71" stroke="#54463f" stroke-width="5" fill="none"/><path d="M-36,71 A35,35 0 0 0 36,71" stroke="#4a3a24" stroke-width="6" fill="none" opacity="0.8"/></g>
<g filter="url(#bl1)" fill="#fff"><ellipse cx="-0.8" cy="-89.6" rx="3" ry="2.6" opacity="0.75"/><ellipse cx="-7.7" cy="-9.9" rx="4.4" ry="3.6" opacity="0.8"/><ellipse cx="-8.7" cy="60.6" rx="7" ry="1.9" transform="rotate(-4 -8.7 60.6)" opacity="0.95"/><ellipse cx="-9.6" cy="74" rx="6" ry="1.8" opacity="0.55"/><ellipse cx="-9" cy="83.5" rx="7.6" ry="4.4" opacity="0.9"/></g>
</g></g>
<g id="cap3" transform="translate(578.15,751.05) rotate(-41.9)">
<g clip-path="url(#cp3)">
<rect x="-40" y="-110" width="80" height="118" fill="url(#c3a)"/>
<rect x="-40" y="6" width="80" height="106" fill="url(#c3b)"/>
<g filter="url(#bl5)"><ellipse cx="2" cy="-76" rx="22" ry="22" fill="#2c2614" opacity="0.95"/><ellipse cx="4" cy="22" rx="16" ry="16" fill="#3a3016" opacity="0.7"/></g>
<g filter="url(#bl3)"><path d="M-35.5,-72 A35.5,35.5 0 0 1 35.5,-72" stroke="#8a8680" stroke-width="6" fill="none" opacity="0.9"/><path d="M-32,72 A31.5,31.5 0 0 0 32,72" stroke="#4a4642" stroke-width="5" fill="none" opacity="0.9"/></g>
<path d="M-36,-53 Q0,-48 36,-53" stroke="#8a857a" stroke-width="1.3" fill="none" opacity="0.7"/>
<path d="M-36,4 Q0,9 36,4" stroke="#6a655c" stroke-width="1.3" fill="none" opacity="0.7"/>
<g filter="url(#bl2)">
<ellipse cx="11.4" cy="-67.5" rx="8" ry="9" fill="#c4ad3c"/>
<ellipse cx="-6" cy="-85.4" rx="3" ry="2.6" fill="#b8b2a8"/>
</g><g filter="url(#bl1)">
<ellipse cx="0.8" cy="-57" rx="7.5" ry="3.4" fill="#f4f1ea"/>
<path d="M-3,-50 L4.5,-50 C6,-36 6.5,-20 6,-4 C5.5,4 4,10 1.5,12 C-2.5,10 -4.5,2 -5,-8 C-5.5,-24 -4.5,-38 -3,-50Z" fill="#e9e6de"/>
<ellipse cx="1.3" cy="-25.3" rx="7" ry="6.6" fill="#f0eee8"/><ellipse cx="1.5" cy="-11" rx="6.4" ry="5.6" fill="#f5f3ee"/><ellipse cx="1" cy="1.5" rx="6" ry="5" fill="#ecebe6"/>
<ellipse cx="-1.2" cy="26.4" rx="4.2" ry="7" fill="#b5a655"/>
<path d="M-2.5,35 L-6.5,76" stroke="#9a9aa0" stroke-width="2.6" fill="none"/>
<ellipse cx="-5.9" cy="81.3" rx="5.8" ry="6.2" fill="#d4d4d4"/>
</g></g></g>
<path d="M673.5,663.9 l1.1,-2.6 l1.1,2.6 l2.6,1.1 l-2.6,1.1 l-1.1,2.6 l-1.1,-2.6 l-2.6,-1.1 Z" fill="#fff"/>
<path d="M498.4,818.1 l1.1,-2.6 l1.1,2.6 l2.6,1.1 l-2.6,1.1 l-1.1,2.6 l-1.1,-2.6 l-2.6,-1.1 Z" fill="#fff"/>
<path d="M730.6,907.6 l1.1,-2.6 l1.1,2.6 l2.6,1.1 l-2.6,1.1 l-1.1,2.6 l-1.1,-2.6 l-2.6,-1.1 Z" fill="#fff"/>
<path d="M779.3,923.6 l1.1,-2.6 l1.1,2.6 l2.6,1.1 l-2.6,1.1 l-1.1,2.6 l-1.1,-2.6 l-2.6,-1.1 Z" fill="#fff"/>
<path d="M734.4,861.9 l1.1,-2.6 l1.1,2.6 l2.6,1.1 l-2.6,1.1 l-1.1,2.6 l-1.1,-2.6 l-2.6,-1.1 Z" fill="#fff"/>
</g>
<!--TEXT-->
<g id="text">
<g id="title" fill="#1b51a3">
<!--W-->
<polygon points="455.4,139 472.6,139 485.2,191 469.2,191"/>
<polygon points="469.2,191 485.2,191 500.6,139 484,139"/>
<polygon points="484,139 500.6,139 515.2,191 499.4,191"/>
<polygon points="499.4,191 515.2,191 529,139 512,139"/>
<!--H-->
<rect x="534.7" y="139" width="14.6" height="52"/><rect x="562.4" y="139" width="14.6" height="52"/><rect x="534.7" y="158" width="42" height="13.6"/>
<!--A-->
<path d="M581.2,191 L599.3,139 L611.7,139 L626.8,191 L611,191 L608.6,182 L599.6,182 L597,191 Z M602,169.5 L606.8,169.5 L604.4,158.5 Z" fill-rule="evenodd"/>
<!--T-->
<rect x="630.2" y="139" width="33.5" height="12.8"/><rect x="639" y="139" width="14.2" height="52"/>
<!--apostrophe-->
<path d="M667.3,139 L678.8,139 L678.8,149 Q678.8,158 669,162.5 L666.8,159.5 Q671.5,156.5 671.5,151.5 L667.3,151.5 Z"/>
<!--I N S I D E-->
<rect x="750.3" y="139" width="15.5" height="52"/>
<path d="M776.1,191 L776.1,139 L790.5,139 L806,166.5 L806,139 L820.2,139 L820.2,191 L806,191 L790.3,163.5 L790.3,191 Z"/>
<rect x="871" y="139" width="15.6" height="52"/>
<path d="M897.2,139 L916,139 Q941.8,139 941.8,165 Q941.8,191 916,191 L897.2,191 Z M912.3,152 L912.3,178 L915,178 Q926,178 926,165 Q926,152 915,152 Z" fill-rule="evenodd"/>
<path d="M950.9,139 L983,139 L983,151.6 L966.2,151.6 L966.2,158.8 L982,158.8 L982,171 L966.2,171 L966.2,178.4 L983,178.4 L983,191 L950.9,191 Z"/>
</g>
<text class="ttl" x="679.7" y="187.7" textLength="37" lengthAdjust="spacingAndGlyphs">S</text>
<text class="ttl" x="826.3" y="187.7" textLength="36" lengthAdjust="spacingAndGlyphs">S</text>

<text class="lbl" x="155.5" y="321.7" textLength="279" lengthAdjust="spacingAndGlyphs">Fenugreek</text>
<text class="lbl" x="155" y="379.3" textLength="131.5" lengthAdjust="spacingAndGlyphs">Seed</text>

<text class="lbl" x="1130.3" y="404.5" textLength="175.4" lengthAdjust="spacingAndGlyphs">Goat’s</text>
<text class="lbl" x="1130.5" y="461.3" textLength="247" lengthAdjust="spacingAndGlyphs">Rue Herb</text>

<text class="lbl" x="1130.3" y="712.5" textLength="168.4" lengthAdjust="spacingAndGlyphs">Nettle</text>
<text class="lbl" x="1130.3" y="770.4" textLength="118.2" lengthAdjust="spacingAndGlyphs">Leaf</text>

<text class="lbl" x="1131.3" y="1037.4" textLength="175.2" lengthAdjust="spacingAndGlyphs">Fennel</text>
<text class="lbl" x="1131.3" y="1095.9" textLength="130.3" lengthAdjust="spacingAndGlyphs">Seed</text>

<text class="lbl" x="147.2" y="954.4" textLength="200.4" lengthAdjust="spacingAndGlyphs">Blessed</text>
<text class="lbl" x="145.4" y="1011.7" textLength="181.5" lengthAdjust="spacingAndGlyphs">Thistle</text>
<text class="lbl" x="146.2" y="1069.6" textLength="132.3" lengthAdjust="spacingAndGlyphs">Herb</text>

<text class="oth" transform="translate(528.6,1237.8) scale(0.885,1)" x="0" y="0" textLength="435" lengthAdjust="spacing">OTHER INGREDIENTS</text>
<text class="ing" x="107.0" y="1318.2" textLength="223.4" lengthAdjust="spacingAndGlyphs">Sunflower</text>
<text class="ing" x="340.2" y="1318.2" textLength="187.8" lengthAdjust="spacingAndGlyphs">Lecithin,</text>
<text class="ing" x="535.0" y="1318.2" textLength="199.8" lengthAdjust="spacingAndGlyphs">Modified</text>
<text class="ing" x="745.0" y="1318.2" textLength="219.8" lengthAdjust="spacingAndGlyphs">Vegetable</text>
<text class="ing" x="979.0" y="1318.2" textLength="209.4" lengthAdjust="spacingAndGlyphs">Cellulose,</text>
<text class="ing" x="1197.6" y="1318.2" textLength="140.8" lengthAdjust="spacingAndGlyphs">MCT’s</text>
</g>
<!--LINES-->
<rect x="108" y="1223" width="346" height="7" fill="#1b51a3"/>
<rect x="991" y="1223" width="346.5" height="7" fill="#1b51a3"/>
<!--ARROWS-->
<g class="arw">
<path d="M348.5,360 C358,390 386,410 425,420.5"/><path d="M410,391.5 L427.5,421 L397,435.5"/>
<path d="M1199,332 C1168,306 1138,303 1108,310"/><path d="M1123,286 L1103.5,310.5 L1131.5,329.5"/>
<path d="M1173,639 C1171,606 1152,576 1122,557"/><path d="M1152,551.5 L1119,555 L1127,591"/>
<path d="M1186.5,970 C1183,936 1164,906 1135,889"/><path d="M1165,883.5 L1132.5,886.5 L1140.5,920.5"/>
<path d="M304,886 C318,854 342,836 378,828"/><path d="M352,812.5 L381,826.5 L363,856.5"/>
</g>
</svg>
</body>
</html>
